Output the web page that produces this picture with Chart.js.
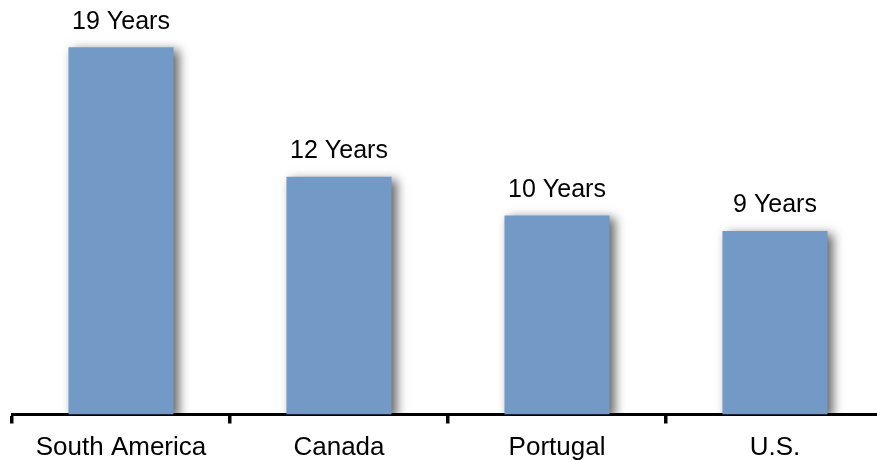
<!DOCTYPE html>
<html>
<head>
<meta charset="utf-8">
<script src="https://cdn.jsdelivr.net/npm/chart.js@4/dist/chart.umd.min.js"></script>
<style>
  html, body { margin: 0; padding: 0; background: #fff; overflow: hidden; }
  #wrap { position: absolute; left: 0; top: 0; width: 900px; height: 460px; }
</style>
</head>
<body>
<div id="wrap"><canvas id="c"></canvas></div>
<script>
const categories = ["South America", "Canada", "Portugal", "U.S."];
const values = [19, 12.3, 10.3, 9.5];
const valueLabels = ["19 Years", "12 Years", "10 Years", "9 Years"];

const barLabels = {
  id: 'barLabels',
  afterDatasetsDraw(chart) {
    const ctx = chart.ctx;
    const meta = chart.getDatasetMeta(0);
    ctx.save();
    ctx.fillStyle = '#000';
    ctx.font = '25px "Liberation Sans", Arial, sans-serif';
    ctx.textAlign = 'center';
    ctx.textBaseline = 'alphabetic';
    meta.data.forEach((bar, i) => {
      ctx.fillText(valueLabels[i], bar.x, bar.y - 18.5);
    });
    ctx.restore();
  }
};

const barShadow = {
  id: 'barShadow',
  beforeDatasetDraw(chart) {
    const ctx = chart.ctx;
    ctx.save();
    ctx.shadowColor = 'rgba(0,0,0,0.6)';
    ctx.shadowBlur = 10;
    ctx.shadowOffsetX = 5;
    ctx.shadowOffsetY = 3;
  },
  afterDatasetDraw(chart) {
    chart.ctx.restore();
  }
};

new Chart(document.getElementById('c'), {
  type: 'bar',
  data: {
    labels: categories,
    datasets: [{
      data: values,
      backgroundColor: '#7399C6',
      borderWidth: 0,
      categoryPercentage: 1,
      barPercentage: 0.482
    }]
  },
  options: {
    responsive: true,
    maintainAspectRatio: false,
    animation: false,
    events: [],
    layout: { padding: { left: 12, right: 16, top: 28, bottom: 0 } },
    plugins: { legend: { display: false }, tooltip: { enabled: false } },
    scales: {
      y: { display: false, min: 0, max: 20 },
      x: {
        z: 1,
        afterFit(s) { s.height = 45.5; },
        border: { display: true, color: '#000', width: 3 },
        grid: { display: true, offset: true, drawOnChartArea: false, drawTicks: true, tickLength: 9, color: '#000', lineWidth: 3.5 },
        ticks: { color: '#000', padding: 9, font: { family: '"Liberation Sans", Arial, sans-serif', size: 26 } }
      }
    }
  },
  plugins: [barShadow, barLabels]
});
</script>
</body>
</html>
